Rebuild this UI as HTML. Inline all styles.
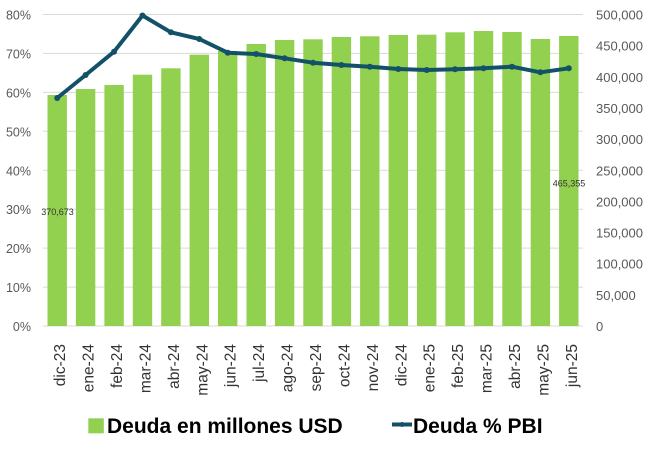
<!DOCTYPE html>
<html><head><meta charset="utf-8"><style>
html,body{margin:0;padding:0;background:#fff;}
svg{display:block;}
text{font-family:"Liberation Sans",sans-serif;}
</style></head><body>
<svg width="650" height="450" viewBox="0 0 650 450" xmlns="http://www.w3.org/2000/svg">
<rect width="650" height="450" fill="#fff"/>
<g stroke="#d9d9d9" stroke-width="1">
<line x1="43" x2="583" y1="14.5" y2="14.5"/>
<line x1="43" x2="583" y1="53.4" y2="53.4"/>
<line x1="43" x2="583" y1="92.4" y2="92.4"/>
<line x1="43" x2="583" y1="131.3" y2="131.3"/>
<line x1="43" x2="583" y1="170.3" y2="170.3"/>
<line x1="43" x2="583" y1="209.2" y2="209.2"/>
<line x1="43" x2="583" y1="248.1" y2="248.1"/>
<line x1="43" x2="583" y1="287.1" y2="287.1"/>
<line x1="43" x2="583" y1="326" y2="326"/>
</g>
<g fill="#92d050">
<rect x="47.5" y="95" width="19.4" height="231"/>
<rect x="75.9" y="89" width="19.4" height="237"/>
<rect x="104.4" y="85" width="19.4" height="241"/>
<rect x="132.8" y="74.7" width="19.4" height="251.3"/>
<rect x="161.2" y="68.3" width="19.4" height="257.7"/>
<rect x="189.6" y="54.7" width="19.4" height="271.3"/>
<rect x="218.0" y="51" width="19.4" height="275"/>
<rect x="246.5" y="44" width="19.4" height="282"/>
<rect x="274.9" y="40" width="19.4" height="286"/>
<rect x="303.3" y="39.3" width="19.4" height="286.7"/>
<rect x="331.7" y="37" width="19.4" height="289"/>
<rect x="360.1" y="36.3" width="19.4" height="289.7"/>
<rect x="388.6" y="35" width="19.4" height="291"/>
<rect x="417.0" y="34.7" width="19.4" height="291.3"/>
<rect x="445.4" y="32.3" width="19.4" height="293.7"/>
<rect x="473.8" y="31" width="19.4" height="295"/>
<rect x="502.3" y="32" width="19.4" height="294"/>
<rect x="530.7" y="39" width="19.4" height="287"/>
<rect x="559.1" y="36" width="19.4" height="290"/>
</g>
<g font-size="9" fill="#333" text-anchor="middle">
<text x="57.5" y="215">370,673</text>
<text x="569" y="186.5">465,355</text>
</g>
<polyline fill="none" stroke="#135168" stroke-width="4" stroke-linejoin="round" stroke-linecap="round"
points="57.21,98 85.63,75 114.05,51.7 142.47,15.5 170.89,32.3 199.32,39 227.74,52.7 256.16,54 284.58,58.3 313.0,62.7 341.42,65 369.84,66.7 398.26,69 426.68,70 455.11,69.3 483.53,68.3 511.95,66.7 540.37,72.3 568.79,68.3"/>
<g fill="#135168">
<circle cx="57.21" cy="98" r="3"/><circle cx="85.63" cy="75" r="3"/><circle cx="114.05" cy="51.7" r="3"/><circle cx="142.47" cy="15.5" r="3"/><circle cx="170.89" cy="32.3" r="3"/><circle cx="199.32" cy="39" r="3"/><circle cx="227.74" cy="52.7" r="3"/><circle cx="256.16" cy="54" r="3"/><circle cx="284.58" cy="58.3" r="3"/><circle cx="313.0" cy="62.7" r="3"/><circle cx="341.42" cy="65" r="3"/><circle cx="369.84" cy="66.7" r="3"/><circle cx="398.26" cy="69" r="3"/><circle cx="426.68" cy="70" r="3"/><circle cx="455.11" cy="69.3" r="3"/><circle cx="483.53" cy="68.3" r="3"/><circle cx="511.95" cy="66.7" r="3"/><circle cx="540.37" cy="72.3" r="3"/><circle cx="568.79" cy="68.3" r="3"/>
</g>
<g font-size="12.5" fill="#595959" text-anchor="end">
<text x="31" y="19.5">80%</text>
<text x="31" y="58.4">70%</text>
<text x="31" y="97.4">60%</text>
<text x="31" y="136.3">50%</text>
<text x="31" y="175.3">40%</text>
<text x="31" y="214.2">30%</text>
<text x="31" y="253.1">20%</text>
<text x="31" y="292.1">10%</text>
<text x="31" y="331">0%</text>
</g>
<g font-size="13" fill="#595959" text-anchor="start">
<text x="596" y="19.5">500,000</text>
<text x="596" y="50.7">450,000</text>
<text x="596" y="81.8">400,000</text>
<text x="596" y="113">350,000</text>
<text x="596" y="144.1">300,000</text>
<text x="596" y="175.3">250,000</text>
<text x="596" y="206.4">200,000</text>
<text x="596" y="237.6">150,000</text>
<text x="596" y="268.7">100,000</text>
<text x="596" y="299.9">50,000</text>
<text x="596" y="331">0</text>
</g>
<g font-size="15.5" fill="#333" text-anchor="end">
<text transform="translate(65.2,344) rotate(-90)">dic-23</text>
<text transform="translate(93.6,344) rotate(-90)">ene-24</text>
<text transform="translate(122.1,344) rotate(-90)">feb-24</text>
<text transform="translate(150.5,344) rotate(-90)">mar-24</text>
<text transform="translate(178.9,344) rotate(-90)">abr-24</text>
<text transform="translate(207.3,344) rotate(-90)">may-24</text>
<text transform="translate(235.7,344) rotate(-90)">jun-24</text>
<text transform="translate(264.2,344) rotate(-90)">jul-24</text>
<text transform="translate(292.6,344) rotate(-90)">ago-24</text>
<text transform="translate(321.0,344) rotate(-90)">sep-24</text>
<text transform="translate(349.4,344) rotate(-90)">oct-24</text>
<text transform="translate(377.8,344) rotate(-90)">nov-24</text>
<text transform="translate(406.3,344) rotate(-90)">dic-24</text>
<text transform="translate(434.7,344) rotate(-90)">ene-25</text>
<text transform="translate(463.1,344) rotate(-90)">feb-25</text>
<text transform="translate(491.5,344) rotate(-90)">mar-25</text>
<text transform="translate(520.0,344) rotate(-90)">abr-25</text>
<text transform="translate(548.4,344) rotate(-90)">may-25</text>
<text transform="translate(576.8,344) rotate(-90)">jun-25</text>
</g>
<rect x="88.3" y="418.3" width="15.5" height="15" fill="#92d050"/>
<text x="107" y="433" font-size="21" font-weight="bold" fill="#000">Deuda en millones USD</text>
<line x1="392" x2="412" y1="424.5" y2="424.5" stroke="#135168" stroke-width="4"/>
<circle cx="402" cy="424.5" r="2.5" fill="#135168"/>
<text x="413" y="433" font-size="21" font-weight="bold" fill="#000">Deuda % PBI</text>
</svg>
</body></html>
